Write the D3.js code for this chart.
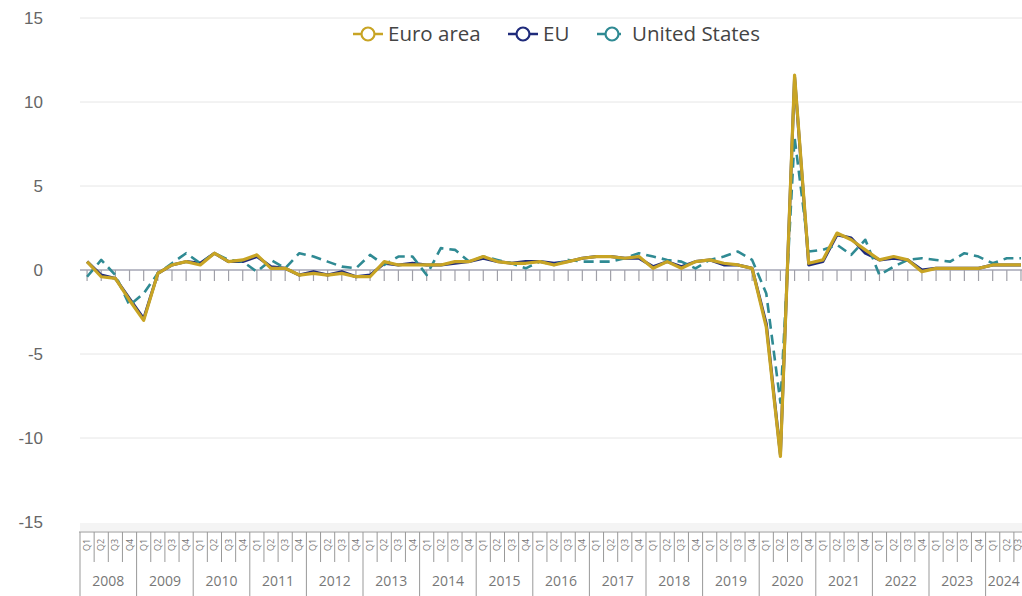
<!DOCTYPE html>
<html>
<head>
<meta charset="utf-8">
<script src="https://cdn.jsdelivr.net/npm/d3@7"></script>
<style>
  body { margin: 0; background: #fff; }
  svg { display: block; font-family: "Segoe UI", "Open Sans", "Noto Sans", sans-serif; }
  .ylab { fill: #666; font-size: 17px; font-family: "Liberation Sans", Arial, sans-serif; }
  .grid { stroke: #e6e6e6; stroke-width: 1; }
  .qlab { fill: #777; font-size: 9px; }
  .ylabx { fill: #777; font-size: 14px; }
</style>
</head>
<body>
<div id="chart"></div>
<script>
var years = [2008,2009,2010,2011,2012,2013,2014,2015,2016,2017,2018,2019,2020,2021,2022,2023,2024];
var quarterNames = ['Q1','Q2','Q3','Q4'];
var yTicks = [-15,-10,-5,0,5,10,15];

// quarter on quarter growth, %, 2008Q1 .. 2024Q3
var euroArea = [
   0.5, -0.4, -0.5, -1.8,
  -3.0, -0.2,  0.3,  0.5,
   0.3,  1.0,  0.5,  0.6,
   0.9,  0.1,  0.1, -0.3,
  -0.2, -0.3, -0.2, -0.4,
  -0.4,  0.5,  0.3,  0.3,
   0.3,  0.3,  0.5,  0.5,
   0.8,  0.5,  0.4,  0.4,
   0.5,  0.3,  0.5,  0.7,
   0.8,  0.8,  0.7,  0.8,
   0.1,  0.5,  0.1,  0.5,
   0.6,  0.4,  0.3,  0.1,
  -3.4,-11.1, 11.6,  0.4,
   0.6,  2.2,  1.8,  1.2,
   0.6,  0.8,  0.6, -0.1,
   0.1,  0.1,  0.1,  0.1,
   0.3,  0.3,  0.3
];
var eu = [
   0.5, -0.3, -0.5, -1.7,
  -2.9, -0.2,  0.3,  0.5,
   0.4,  1.0,  0.5,  0.5,
   0.8,  0.2,  0.1, -0.3,
  -0.1, -0.3, -0.1, -0.4,
  -0.3,  0.4,  0.3,  0.4,
   0.3,  0.3,  0.4,  0.5,
   0.7,  0.5,  0.4,  0.5,
   0.5,  0.4,  0.5,  0.7,
   0.8,  0.8,  0.7,  0.7,
   0.2,  0.5,  0.2,  0.5,
   0.6,  0.3,  0.3,  0.1,
  -3.2,-11.0, 11.5,  0.3,
   0.5,  2.1,  1.9,  1.0,
   0.6,  0.7,  0.6,  0.0,
   0.1,  0.1,  0.1,  0.1,
   0.3,  0.3,  0.3
];
var unitedStates = [
  -0.4,  0.6, -0.3, -2.1,
  -1.4, -0.2,  0.4,  1.0,
   0.4,  1.0,  0.6,  0.5,
  -0.1,  0.6,  0.1,  1.0,
   0.8,  0.5,  0.2,  0.1,
   0.9,  0.3,  0.8,  0.8,
  -0.3,  1.3,  1.2,  0.5,
   0.8,  0.6,  0.4,  0.1,
   0.5,  0.3,  0.6,  0.5,
   0.5,  0.5,  0.7,  1.0,
   0.8,  0.6,  0.5,  0.1,
   0.6,  0.8,  1.1,  0.6,
  -1.4, -7.9,  7.9,  1.1,
   1.2,  1.5,  0.9,  1.8,
  -0.3,  0.2,  0.6,  0.7,
   0.6,  0.5,  1.0,  0.8,
   0.4,  0.7,  0.7
];

var series = [
  { name: 'EU', values: eu, color: '#1f2b7b', dash: null, width: 3 },
  { name: 'United States', values: unitedStates, color: '#2f8a93', dash: '10,6', width: 2.6 },
  { name: 'Euro area', values: euroArea, color: '#c8a424', dash: null, width: 3.2 }
];
var legendOrder = ['Euro area', 'EU', 'United States'];

var width = 1022, height = 596;
var quarters = [];
years.forEach(function(y) {
  quarterNames.forEach(function(q) { quarters.push(y + '-' + q); });
});
quarters = quarters.slice(0, euroArea.length);

// last quarter runs a little past the right edge, as in the original
var x = d3.scaleBand().domain(quarters).range([80, 80 + 14.15 * quarters.length]);
var y = d3.scaleLinear().domain([-15, 15]).range([522, 18]);

var svg = d3.select('#chart').append('svg')
    .attr('width', width)
    .attr('height', height);

// grid
svg.selectAll('.grid')
    .data(yTicks.filter(function(d) { return d != 0 && d != -15; }))
  .enter().append('line')
    .attr('class', 'grid')
    .attr('x1', 80).attr('x2', width)
    .attr('y1', function(d) { return y(d); })
    .attr('y2', function(d) { return y(d); });

// y labels
svg.selectAll('.ylab')
    .data(yTicks)
  .enter().append('text')
    .attr('class', 'ylab')
    .attr('x', 43)
    .attr('y', function(d) { return y(d); })
    .attr('dy', '0.35em')
    .attr('text-anchor', 'end')
    .text(function(d) { return d; });

// zero axis with ticks
svg.append('line')
    .attr('x1', 80).attr('x2', width)
    .attr('y1', y(0)).attr('y2', y(0))
    .attr('stroke', '#a4a6b4').attr('stroke-width', 1.3);
svg.selectAll('.ztick')
    .data(quarters)
  .enter().append('line')
    .attr('class', 'ztick')
    .attr('x1', function(d) { return x(d) + x.bandwidth() / 2; })
    .attr('x2', function(d) { return x(d) + x.bandwidth() / 2; })
    .attr('y1', y(0)).attr('y2', y(0) + 11)
    .attr('stroke', '#a0a0a8').attr('stroke-width', 1.2);

// bottom category axis
svg.append('rect')
    .attr('x', 80).attr('y', 523).attr('width', width - 80).attr('height', 8)
    .attr('fill', '#f4f4f4');
svg.append('line')
    .attr('x1', 79).attr('x2', width)
    .attr('y1', 532).attr('y2', 532)
    .attr('stroke', '#999');

svg.selectAll('.qsep')
    .data(quarters)
  .enter().append('line')
    .attr('class', 'qsep')
    .attr('x1', function(d) { return x(d); })
    .attr('x2', function(d) { return x(d); })
    .attr('y1', 532)
    .attr('y2', function(d) { return /Q1$/.test(d) ? height : 562; })
    .attr('stroke', '#999');

svg.selectAll('.qlab')
    .data(quarters)
  .enter().append('text')
    .attr('class', 'qlab')
    .attr('transform', function(d) {
      var cx = Math.min(x(d) + x.bandwidth() / 2 + 3, width - 1.5);
      return 'translate(' + cx + ',545)rotate(-90)';
    })
    .attr('text-anchor', 'middle')
    .text(function(d) { return d.split('-')[1]; });

svg.selectAll('.ylabx')
    .data(years)
  .enter().append('text')
    .attr('class', 'ylabx')
    .attr('x', function(d) {
      var n = quarters.filter(function(q) { return q.indexOf(d + '-') == 0; }).length;
      var x0 = x(d + '-Q1'), x1 = Math.min(x0 + x.bandwidth() * n, width);
      return (x0 + x1) / 2;
    })
    .attr('y', 586)
    .attr('text-anchor', 'middle')
    .text(function(d) { return d; });

// lines
var line = d3.line()
    .x(function(d, i) { return x(quarters[i]) + x.bandwidth() / 2; })
    .y(function(d) { return y(d); });

svg.selectAll('.series')
    .data(series)
  .enter().append('path')
    .attr('class', 'series')
    .attr('fill', 'none')
    .attr('stroke', function(d) { return d.color; })
    .attr('stroke-width', function(d) { return d.width; })
    .attr('stroke-dasharray', function(d) { return d.dash; })
    .attr('stroke-linejoin', 'round')
    .attr('d', function(d) { return line(d.values); });

// legend
var legendPos = { 'Euro area': 353, 'EU': 508, 'United States': 597 };
var lg = svg.selectAll('.legend')
    .data(legendOrder.map(function(n) { return series.filter(function(s) { return s.name == n; })[0]; }))
  .enter().append('g')
    .attr('class', 'legend')
    .attr('transform', function(d) { return 'translate(' + legendPos[d.name] + ',34)'; });
lg.append('line')
    .attr('x1', 0).attr('x2', 30)
    .attr('stroke', function(d) { return d.color; })
    .attr('stroke-width', 2.5)
    .attr('stroke-dasharray', function(d) { return d.dash ? '8,14,2,10' : null; });
lg.append('circle')
    .attr('cx', 15).attr('r', 6.5)
    .attr('fill', '#fff')
    .attr('stroke', function(d) { return d.color; })
    .attr('stroke-width', 2.2);
lg.append('text')
    .attr('x', 35).attr('dy', '0.35em')
    .attr('fill', '#444')
    .style('font-size', '20.5px')
    .text(function(d) { return d.name; });
</script>
</body>
</html>
